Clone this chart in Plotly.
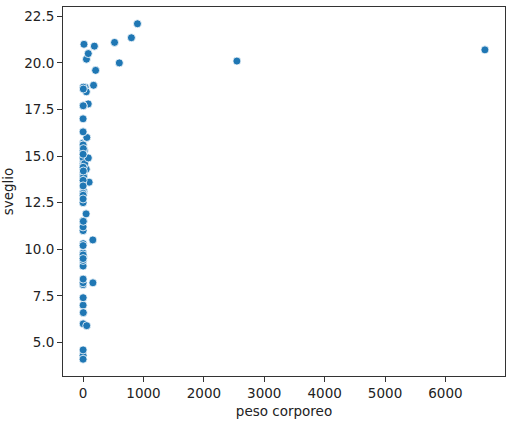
import plotly.graph_objects as go

# msleep: body weight (kg) vs hours awake
peso_corporeo = [
    50.000, 0.480, 1.350, 0.019, 600.000, 3.850, 20.490, 0.045, 14.000, 14.800,
    33.500, 0.728, 4.750, 0.420, 0.060, 1.000, 0.005, 3.500, 2.950, 1.700,
    2547.000, 0.023, 521.000, 187.000, 0.770, 10.000, 0.071, 3.300, 0.200, 899.995,
    800.000, 85.000, 2.625, 62.000, 1.670, 6654.000, 0.370, 6.800, 0.053, 0.120,
    0.035, 0.022, 0.010, 0.266, 1.400, 0.210, 0.028, 2.500, 55.500, 52.200,
    162.564, 100.000, 161.499, 25.235, 0.550, 1.100, 0.021, 1.620, 86.000, 53.180,
    1.100, 60.000, 3.600, 0.320, 0.044, 0.743, 0.075, 0.148, 0.122, 0.920,
    0.101, 0.205, 0.048, 86.250, 4.500, 0.112, 207.501, 0.900, 0.104, 173.330,
    2.000, 3.380, 4.230,
]
sveglio = [
    11.9, 7.0, 9.6, 9.1, 20.0, 9.6, 15.3, 17.0, 13.9, 21.0,
    18.7, 14.6, 14.0, 11.5, 13.7, 15.7, 14.9, 6.6, 18.7, 6.0,
    20.1, 4.3, 21.1, 20.9, 13.9, 13.1, 9.1, 11.5, 14.2, 22.1,
    21.35, 17.8, 17.7, 16.0, 14.5, 20.7, 4.6, 13.9, 9.8, 9.7,
    11.2, 11.5, 4.1, 9.4, 13.0, 16.3, 9.5, 15.6, 20.2, 14.3,
    8.2, 13.6, 10.5, 14.6, 13.7, 13.0, 12.5, 10.3, 20.5, 18.45,
    12.9, 5.9, 18.6, 11.0, 15.3, 14.4, 15.6, 12.7, 13.4, 7.4,
    10.2, 8.1, 11.2, 14.9, 15.4, 8.2, 19.6, 8.4, 15.1, 18.8,
    17.7, 11.5, 14.2,
]

font = dict(family="DejaVu Sans", size=13.5, color="#222222")

fig = go.Figure()
fig.add_trace(go.Scatter(
    x=peso_corporeo, y=sveglio, mode="markers",
    marker=dict(color="#1f77b4", size=8, line=dict(color="white", width=0.8)),
    showlegend=False,
))

axis_common = dict(
    showgrid=False, zeroline=False, showline=True, linecolor="#333333",
    linewidth=1, mirror=True, ticks="outside", ticklen=5, tickcolor="#333333",
    tickfont=font, automargin=False,
)
fig.update_xaxes(range=[-332.7, 6986.7], tickvals=[0, 1000, 2000, 3000, 4000, 5000, 6000],
                 title=dict(text="peso corporeo", font=font, standoff=6), **axis_common)
fig.update_yaxes(range=[3.2, 23.0], tickvals=[5.0, 7.5, 10.0, 12.5, 15.0, 17.5, 20.0, 22.5],
                 tickformat=".1f", title=dict(text="sveglio", font=font, standoff=8), **axis_common)

fig.update_layout(
    width=511, height=422,
    margin=dict(l=63, r=6, t=7, b=46),
    plot_bgcolor="white", paper_bgcolor="white",
    font=font,
)

# page body has a default 8px margin; drop it so the figure sits at the corner
fig.write_html("out.html", config={"displayModeBar": False},
               post_script="document.body.style.margin='0';")
